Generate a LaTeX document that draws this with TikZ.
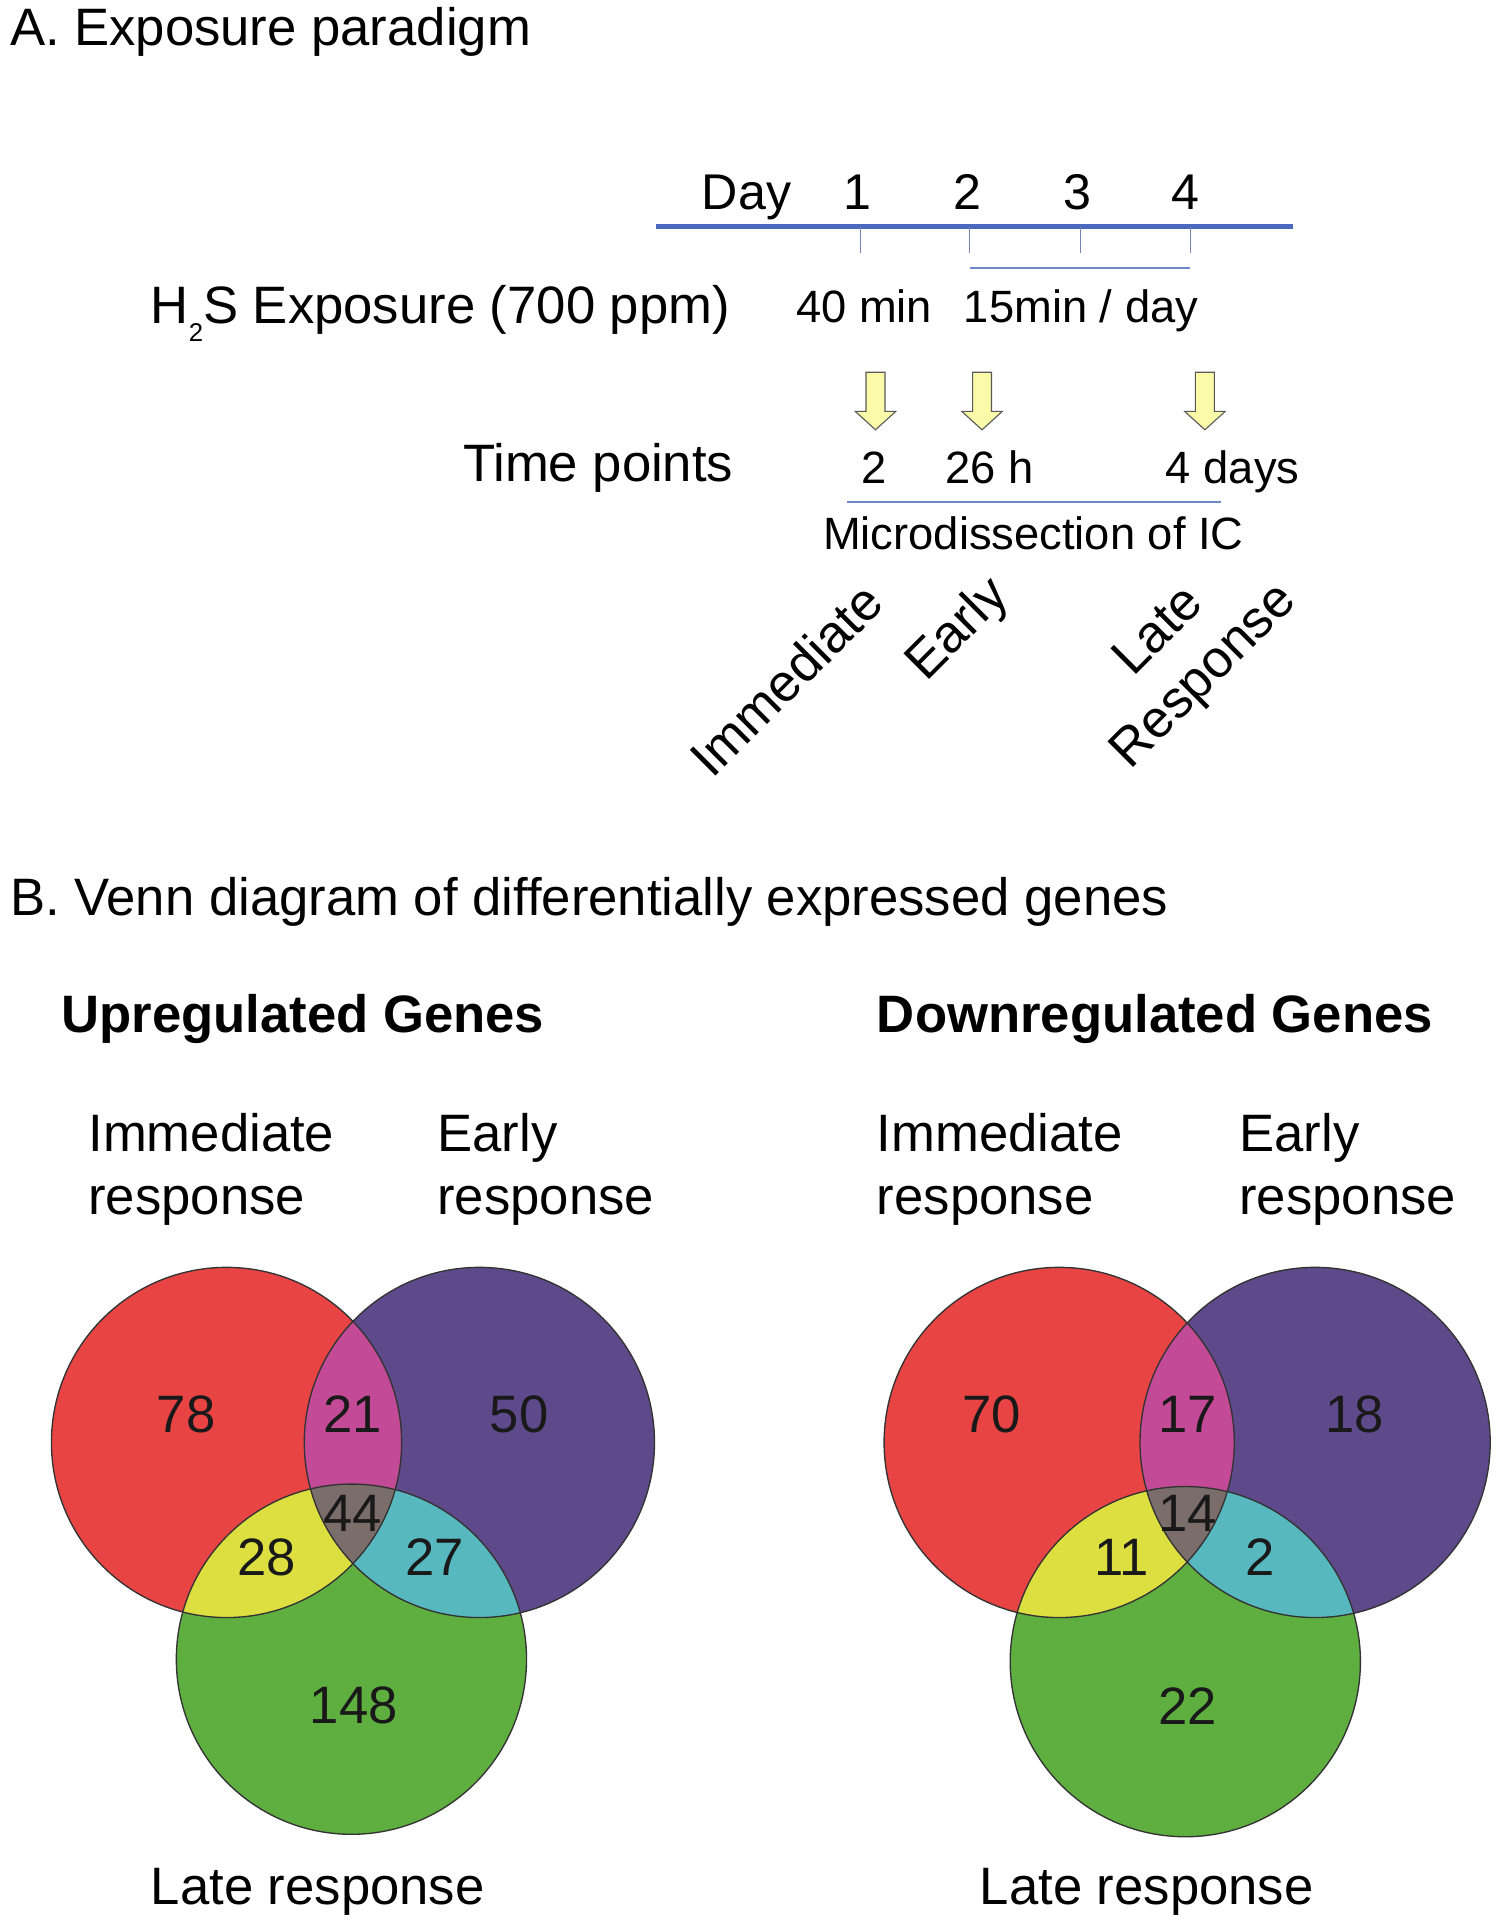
\documentclass[tikz,border=0pt]{standalone}
\usepackage{fontspec}
\setmainfont{Liberation Sans}
\definecolor{vred}{HTML}{E84444}
\definecolor{vpurple}{HTML}{5E4A8B}
\definecolor{vgreen}{HTML}{5FAF40}
\definecolor{vmagenta}{HTML}{C34A97}
\definecolor{vyellow}{HTML}{DDDF40}
\definecolor{vcyan}{HTML}{57B8C0}
\definecolor{vgrey}{HTML}{7B6E6A}
\definecolor{tblue}{HTML}{4A6AC0}
\definecolor{tthin}{HTML}{6F88CC}
\definecolor{arrfill}{HTML}{FAFAA8}
\tikzset{
  big/.style={font=\fontsize{43}{52}\selectfont, inner sep=0pt},
  mid/.style={font=\fontsize{37}{44}\selectfont, inner sep=0pt},
  dayf/.style={font=\fontsize{41}{48}\selectfont, inner sep=0pt},
  boldf/.style={font=\fontsize{43}{52}\selectfont\bfseries, inner sep=0pt},
  num/.style={font=\fontsize{43}{52}\selectfont, inner sep=0pt, text=black!90},
  vline/.style={draw=black!80, line width=1.1pt},
  yarr/.pic={\draw[draw=black!65, fill=arrfill, line width=0.9pt, line join=miter]
     (-7.75,0) -- (7.75,0) -- (7.75,32) -- (16.5,32) -- (0,47) -- (-16.5,32) -- (-7.75,32) -- cycle;}
}
\begin{document}
\begin{tikzpicture}[x=1pt,y=-1pt]
\useasboundingbox (0,0) rectangle (1222,1568);
% ---------- Part A ----------
\node[big, anchor=base west] (titleA) at (8,37) {A. Exposure paradigm};
% timeline
\coordinate (tl0) at (536,185);
\coordinate (tl1) at (1056,185);
\draw[tblue, line width=4pt] (tl0) -- (tl1);
\foreach \x/\n in {703/1,792/2,882/3,972/4}{
  \coordinate (tk\n) at (\x,185);
  \coordinate (tb\n) at (\x,207);
  \draw[tthin!70!gray, line width=0.7pt] (tk\n) -- (tb\n);
}
\coordinate (ex0) at (792,219);
\coordinate (ex1) at (972,219);
\draw[tthin, line width=1.5pt] (ex0) -- (ex1);
\node[dayf, anchor=base west] (day) at (573,171) {Day};
\node[dayf, anchor=base] (d1) at (700,171) {1};
\node[dayf, anchor=base] (d2) at (790,171) {2};
\node[dayf, anchor=base] (d3) at (880,171) {3};
\node[dayf, anchor=base] (d4) at (968,171) {4};
% exposure row
\node[big, anchor=base west] (h2s) at (123,264) {H\raisebox{-15pt}{\fontsize{21}{24}\selectfont 2}S Exposure (700 ppm)};
\node[mid, anchor=base west] (e40) at (650,263) {40 min};
\node[mid, anchor=base west] (e15) at (787,263) {15min / day};
% arrows
\pic (a1) at (715,304) {yarr};
\pic (a2) at (802,304) {yarr};
\pic (a3) at (984,304) {yarr};
% time points
\node[big, anchor=base west] (tp) at (378,393) {Time points};
\node[mid, anchor=base] (t2) at (714,395) {2};
\node[mid, anchor=base west] (t26) at (772,395) {26 h};
\node[mid, anchor=base west] (t4) at (952,395) {4 days};
\coordinate (md0) at (692,410);
\coordinate (md1) at (997,410);
\draw[tthin, line width=1.5pt] (md0) -- (md1);
\node[mid, anchor=base west] (micro) at (672,449) {Microdissection of IC};
% rotated labels
\node[big, rotate=45] (rimm) at (642,555) {Immediate};
\node[big, rotate=45] (rear) at (783,515) {Early};
\node[big, rotate=45, align=center] (rlate) at (966,535) {Late\\Response};
% ---------- Part B ----------
\node[big, anchor=base west] (titleB) at (8,748) {B. Venn diagram of differentially expressed genes};
\node[boldf, anchor=base west] (up) at (50,843) {Upregulated Genes};
\node[boldf, anchor=base west] (down) at (716,843) {Downregulated Genes};
\foreach \ox/\lab in {0/L, 644/R}{
  \node[big, anchor=base west] (imm\lab) at ({72+\ox},940) {Immediate};
  \node[big, anchor=base west] (immr\lab) at ({72+\ox},992) {response};
}
\node[big, anchor=base west] (earL) at (357,940) {Early};
\node[big, anchor=base west] (earrL) at (357,992) {response};
\node[big, anchor=base west] (earR) at (1012,940) {Early};
\node[big, anchor=base west] (earrR) at (1012,992) {response};
% Left Venn
\def\rr{143}
\begin{scope}
  \fill[vred] (185,1178) circle (\rr);
  \fill[vpurple] (391.5,1178) circle (\rr);
  \fill[vgreen] (287,1355) circle (\rr);
  \begin{scope}\clip (185,1178) circle (\rr); \fill[vmagenta] (391.5,1178) circle (\rr); \fill[vyellow] (287,1355) circle (\rr); \end{scope}
  \begin{scope}\clip (391.5,1178) circle (\rr); \fill[vcyan] (287,1355) circle (\rr); \end{scope}
  \begin{scope}\clip (185,1178) circle (\rr); \clip (391.5,1178) circle (\rr); \fill[vgrey] (287,1355) circle (\rr); \end{scope}
  \draw[vline] (185,1178) circle (\rr);
  \draw[vline] (391.5,1178) circle (\rr);
  \draw[vline] (287,1355) circle (\rr);
\end{scope}
\node[num] (n78) at (152,1155) {78};
\node[num] (n21) at (288,1155) {21};
\node[num] (n50) at (424,1155) {50};
\node[num] (n44) at (288,1236) {44};
\node[num] (n28) at (218,1272) {28};
\node[num] (n27) at (355,1272) {27};
\node[num] (n148) at (289,1393) {148};
\node[big, anchor=base west] (lateL) at (123,1555) {Late response};
% Right Venn
\begin{scope}
  \fill[vred] (865,1178) circle (\rr);
  \fill[vpurple] (1074,1178) circle (\rr);
  \fill[vgreen] (968,1357) circle (\rr);
  \begin{scope}\clip (865,1178) circle (\rr); \fill[vmagenta] (1074,1178) circle (\rr); \fill[vyellow] (968,1357) circle (\rr); \end{scope}
  \begin{scope}\clip (1074,1178) circle (\rr); \fill[vcyan] (968,1357) circle (\rr); \end{scope}
  \begin{scope}\clip (865,1178) circle (\rr); \clip (1074,1178) circle (\rr); \fill[vgrey] (968,1357) circle (\rr); \end{scope}
  \draw[vline] (865,1178) circle (\rr);
  \draw[vline] (1074,1178) circle (\rr);
  \draw[vline] (968,1357) circle (\rr);
\end{scope}
\node[num] (n70) at (810,1155) {70};
\node[num] (n17) at (970,1155) {17};
\node[num] (n18) at (1106,1155) {18};
\node[num] (n14) at (970,1236) {14};
\node[num] (n11) at (916,1272) {11};
\node[num] (n2) at (1029,1272) {2};
\node[num] (n22) at (970,1393) {22};
\node[big, anchor=base west] (lateR) at (800,1555) {Late response};
\end{tikzpicture}
\end{document}
